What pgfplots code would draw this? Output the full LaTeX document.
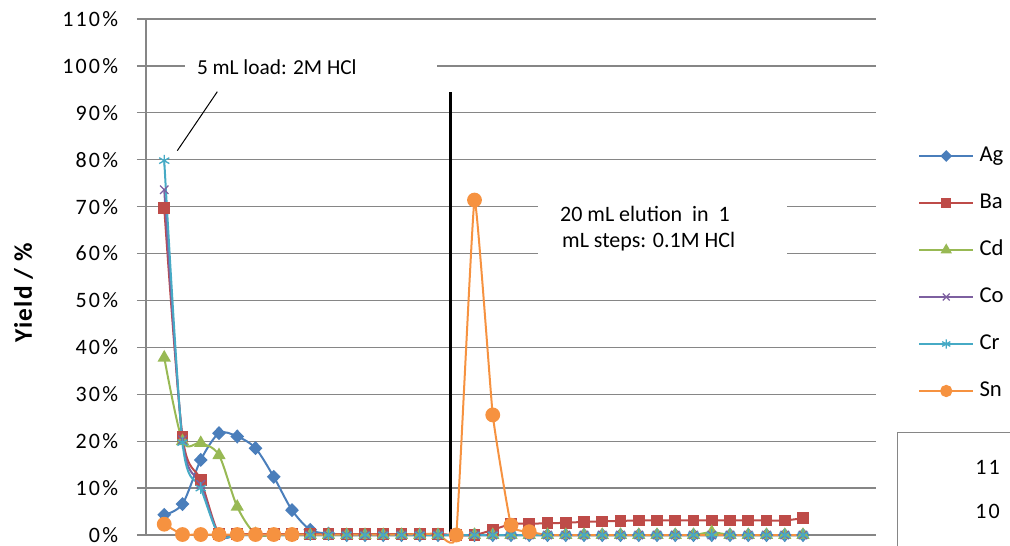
\documentclass[border=0pt]{standalone}
\usepackage{fontspec}
\setmainfont{Carlito}
\newfontfamily\tickfont[LetterSpace=10]{Carlito}
\newfontfamily\labfont[LetterSpace=5]{Carlito}
\usepackage{pgfplots}
\usepackage{pgfplotstable}
\pgfplotsset{compat=1.18}
\definecolor{cAg}{HTML}{4A7EBB}
\definecolor{cBa}{HTML}{BE4B48}
\definecolor{cCd}{HTML}{98B954}
\definecolor{cCo}{HTML}{7D60A0}
\definecolor{cCr}{HTML}{46AAC5}
\definecolor{cSn}{HTML}{F69240}
\definecolor{gridgray}{HTML}{868686}

\pgfplotstableread{
x Ag Ba Cd Co Cr Sn
1 4.3 69.7 37.8 73.6 79.8 2.3
2 6.6 21.0 20.0 20.3 19.7 0.1
3 16.0 11.7 19.6 10.8 10.0 0.1
4 21.7 0.2 17.0 0 0 0.1
5 21.0 0.2 6.0 0 0 0.1
6 18.5 0.2 0.2 0 0 0.1
7 12.4 0.2 0 0 0 0.1
8 5.3 0.2 0 0 0 0.1
9 1.1 0.2 0 0 0 0.1
10 0.3 0.2 0 0 0 0.1
11 0 0.2 0 0 0 0.1
12 0 0.2 0 0 0 0.1
13 0 0.2 0 0 0 0.1
14 0 0.2 0 0 0 0.1
15 0 0.2 0 0 0 0.2
16 0 0.2 0 0 0 0.3
17 0 0 0 0 0 0
18 0 0 0 0 0 71.4
19 0 1.1 0 0 0 25.6
20 0 2.3 0 0 0 2.1
21 0 2.4 0 0 0 0.7
22 0 2.5 0 0 0 0
23 0 2.6 0 0 0 0
24 0 2.8 0 0 0 0
25 0 2.9 0 0 0 0
26 0 3.0 0 0 0 0
27 0 3.1 0 0 0 0
28 0 3.1 0 0 0 0
29 0 3.1 0 0 0 0
30 0 3.1 0 0 0 0
31 0 3.1 0.6 0 0 0
32 0 3.1 0 0 0 0
33 0 3.1 0 0 0 0
34 0 3.1 0 0 0 0
35 0 3.1 0 0 0 0
36 0 3.6 0 0 0 0
}\datatable

\begin{document}
\begin{tikzpicture}
\useasboundingbox (-109.5pt,-8.25pt) rectangle (648pt,401.25pt);
\clip (-109.5pt,-8.25pt) rectangle (648pt,401.25pt);
\begin{axis}[
  at={(0pt,0pt)}, anchor=south west,
  scale only axis, width=547.5pt, height=387pt,
  xmin=0, xmax=40, ymin=0, ymax=110,
  clip=false,
  axis lines=left,
  axis line style={-, draw=gridgray, line width=1pt},
  xtick=\empty,
  ytick={0,10,...,110},
  yticklabels={0\%,10\%,20\%,30\%,40\%,50\%,60\%,70\%,80\%,90\%,100\%,110\%},
  yticklabel style={font=\tickfont\fontsize{16.5}{19}\selectfont, inner sep=0pt, xshift=-14pt},
  ytick pos=left,
  tick align=outside,
  major tick length=6.75pt,
  tick style={draw=gridgray, line width=1pt},
  ymajorgrids,
  major grid style={draw=gridgray, line width=1pt},
  every axis plot/.append style={smooth, line width=1.5pt},
  legend style={at={(1.0575,0.5068)}, anchor=west, draw=none, fill=none,
    inner sep=0pt, row sep=17.25pt,
    font=\fontsize{17}{20}\selectfont,
    nodes={inner sep=1pt, text height=12.5pt, text depth=3.5pt},
    /tikz/every odd column/.append style={column sep=3pt}},
  legend cell align=left,
  legend image code/.code={
    \draw[#1] (0pt,0pt) -- (40.5pt,0pt);
    \draw[#1, /tikz/every mark/.append style={scale=0.8}] plot coordinates {(20.25pt,0pt)};
  },
]
\addplot[color=cAg, mark=diamond*, mark size=4.2pt, mark options={solid, fill=cAg, xscale=1.3}] table[x=x, y=Ag] {\datatable};
\addlegendentry{Ag}
\addplot[color=cBa, mark=square*, mark size=3.6pt, mark options={solid, fill=cBa}] table[x=x, y=Ba] {\datatable};
\addlegendentry{Ba}
\addplot[color=cCd, mark=triangle*, mark size=4.3pt, mark options={solid, fill=cCd}] table[x=x, y=Cd] {\datatable};
\addlegendentry{Cd}
\addplot[color=cCo, mark=x, mark size=4.5pt, mark options={solid, line width=1pt}] table[x=x, y=Co] {\datatable};
\addlegendentry{Co}
\addplot[color=cCr, mark=asterisk, mark size=4.4pt, mark options={solid, line width=1pt}] table[x=x, y=Cr] {\datatable};
\addlegendentry{Cr}
\addplot[color=cSn, mark=*, mark size=4.8pt, mark options={solid, fill=cSn}, tension=0.2,
  mark indices={1,2,3,4,5,6,7,8,17,18,19,20,21}] table[x=x, y=Sn] {\datatable};
\addlegendentry{Sn}

% annotation boxes
\fill[white] (axis cs:2.14,95.5) rectangle (axis cs:15.95,103.5);
\node[anchor=west, inner sep=0pt, font=\fontsize{16}{19}\selectfont] at (axis cs:2.78,99.66) {5 mL load: 2M HCl};
\draw[black, line width=0.75pt] (axis cs:3.907,94.5) -- (axis cs:1.715,81.92);
\draw[black, line width=2.25pt] (axis cs:16.7,0) -- (axis cs:16.7,94.5);
\fill[white] (axis cs:21.48,57.6) rectangle (axis cs:35.12,73.5);
\node[anchor=west, inner sep=0pt, font=\fontsize{16.5}{19}\selectfont] at (axis cs:22.68,68.4) {20 mL elution\ \ in\ \ 1};
\node[anchor=west, inner sep=0pt, font=\fontsize{16.5}{19}\selectfont] at (axis cs:22.79,62.46) {mL steps: 0.1M HCl};
\end{axis}
% y label
\node[rotate=90, inner sep=0pt, font=\labfont\bfseries\fontsize{19}{21}\selectfont] at (-91.9pt,181.5pt) {Yield / \%};
% cropped neighbouring box
\draw[gridgray, line width=0.75pt] (563.25pt,-30pt) rectangle (700pt,76.5pt);
\node[anchor=west, inner sep=0pt, font=\tickfont\fontsize{16.5}{19}\selectfont] at (621.75pt,51pt) {11};
\node[anchor=west, inner sep=0pt, font=\tickfont\fontsize{16.5}{19}\selectfont] at (621.75pt,18pt) {10};
\end{tikzpicture}
\end{document}
